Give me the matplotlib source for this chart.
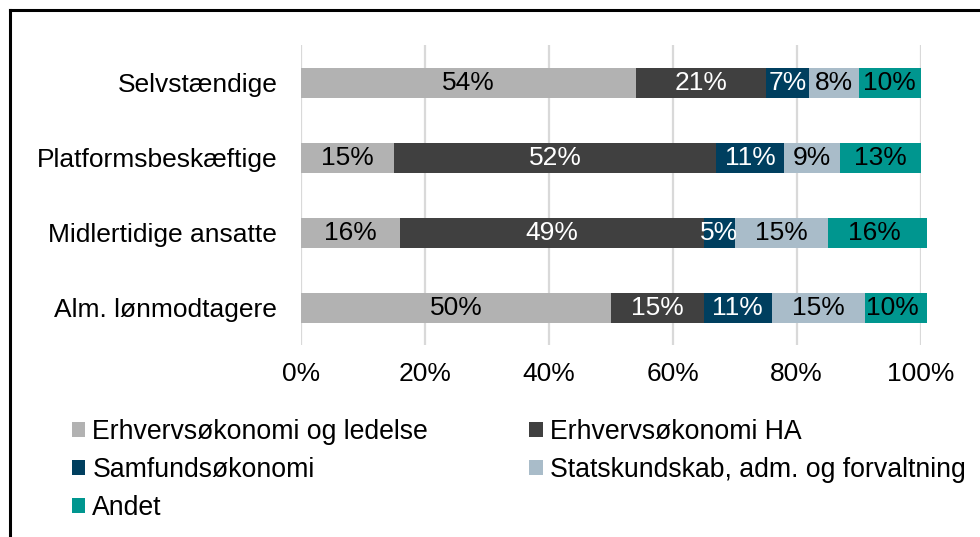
import matplotlib
matplotlib.use("Agg")
import matplotlib.pyplot as plt
from matplotlib.patches import Patch
from matplotlib.lines import Line2D

plt.rcParams['font.family'] = ['Liberation Sans', 'DejaVu Sans']

# data (percentages)
categories = ["Selvstændige", "Platformsbeskæftige", "Midlertidige ansatte", "Alm. lønmodtagere"]
series_names = ["Erhvervsøkonomi og ledelse", "Erhvervsøkonomi HA", "Samfundsøkonomi",
                "Statskundskab, adm. og forvaltning", "Andet"]
erhv_ledelse = [54, 15, 16, 50]
erhv_ha = [21, 52, 49, 15]
samfund = [7, 11, 5, 11]
statskundskab = [8, 9, 15, 15]
andet = [10, 13, 16, 10]
x_ticks = [0, 20, 40, 60, 80, 100]

series = [erhv_ledelse, erhv_ha, samfund, statskundskab, andet]
colors = ["#B2B2B2", "#404040", "#003F5F", "#A9BCC9", "#00968F"]
label_colors = ["black", "white", "white", "black", "black"]

FS = 19.0
LEG_FS = 19.2

fig = plt.figure(figsize=(9.8, 5.37), dpi=100)
ax = fig.add_axes([0.3071, 0.3575, 0.6322, 0.5587])

ypos = list(range(len(categories)))
left = [0] * len(categories)
for vals, col, lcol in zip(series, colors, label_colors):
    bars = ax.barh(ypos, vals, left=left, height=0.4, color=col, zorder=3, clip_on=False)
    ax.bar_label(bars, labels=[f"{v}%" for v in vals], label_type="center",
                 color=lcol, fontsize=FS, zorder=4)
    left = [a + b for a, b in zip(left, vals)]

ax.set_xlim(0, 100)
ax.set_ylim(len(categories) - 0.5, -0.5)
ax.set_yticks(ypos)
ax.set_yticklabels(categories, fontsize=FS)
ax.set_xticks(x_ticks)
ax.set_xticklabels([f"{t}%" for t in x_ticks], fontsize=FS)
ax.tick_params(axis="both", length=0)
ax.tick_params(axis="x", pad=12)
ax.tick_params(axis="y", pad=17)
ax.grid(axis="x", color="#D9D9D9", linewidth=1.6, zorder=0)
for s in ax.spines.values():
    s.set_visible(False)

# legend, Excel-style row order -> column-major for matplotlib
order = [0, 2, 4, 1, 3]
handles = [Patch(facecolor=colors[i], edgecolor="none") for i in order]
labels = [series_names[i] for i in order]
fig.legend(handles, labels, loc="upper left", bbox_to_anchor=(72 / 980, 1 - 419 / 537),
           ncol=2, frameon=False, fontsize=LEG_FS, handlelength=0.5, handleheight=0.5,
           handletextpad=0.26, labelspacing=0.45, columnspacing=3.8, borderpad=0,
           borderaxespad=0)

# outer frame (right/bottom edges are cut off in the reference)
fig.add_artist(Line2D([9.5 / 980, 1], [1 - 9.5 / 537, 1 - 9.5 / 537], color="black", linewidth=2.2))
fig.add_artist(Line2D([9.5 / 980, 9.5 / 980], [0, 1 - 9.5 / 537], color="black", linewidth=2.2))

fig.savefig("out.png", dpi=100)
